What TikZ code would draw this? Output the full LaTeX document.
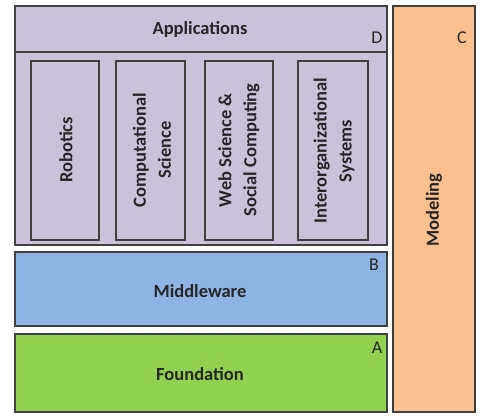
\documentclass[tikz,border=0pt]{standalone}
\usepackage{fontspec}
\setmainfont{Carlito}
\definecolor{lav}{HTML}{CCC1DA}
\definecolor{mblue}{HTML}{8EB4E3}
\definecolor{fgreen}{HTML}{92D050}
\definecolor{morange}{HTML}{FAC090}
\definecolor{edge}{HTML}{404040}
\begin{document}
\begin{tikzpicture}[x=1pt,y=-1pt,
  layer/.style={draw=edge,line width=1.4pt},
  sub/.style={draw=edge,line width=1.2pt,fill=lav},
  lbl/.style={font=\fontsize{18.5}{25}\selectfont\bfseries,text=black!85},
  corner/.style={font=\fontsize{18}{20}\selectfont,text=black!85}]
\useasboundingbox (0,0) rectangle (481,415);
\fill[white] (0,0) rectangle (481,415);
% Applications
\draw[layer,fill=lav] (15,6) rectangle (387,245);
\draw[edge,line width=1.2pt] (15,52) -- (387,52);
\node[lbl] (app) at (200,29) {Applications};
\node[corner] (d) at (377,38) {D};
\draw[sub] (31,61) rectangle (99,240);
\draw[sub] (116,61) rectangle (185,240);
\draw[sub] (205,61) rectangle (273,240);
\draw[sub] (298,61) rectangle (368,240);
\node[lbl,rotate=90] (rob) at (66,150) {Robotics};
\node[lbl,rotate=90,align=center] (comp) at (152,150) {Computational\\Science};
\node[lbl,rotate=90,align=center] (web) at (239,150) {Web Science \&\\Social Computing};
\node[lbl,rotate=90,align=center] (inter) at (334,151) {Interorganizational\\Systems};
% Middleware
\draw[layer,fill=mblue] (15,252) rectangle (387,326);
\node[lbl] (mid) at (200,291) {Middleware};
\node[corner] (b) at (374,265) {B};
% Foundation
\draw[layer,fill=fgreen] (15,334) rectangle (387,412);
\node[lbl] (fnd) at (200,374) {Foundation};
\node[corner] (a) at (377,348) {A};
% Modeling
\draw[layer,fill=morange] (393,6) rectangle (475,412);
\node[lbl,rotate=90] (mod) at (434,210) {Modeling};
\node[corner] (c) at (462,38) {C};
\end{tikzpicture}
\end{document}
